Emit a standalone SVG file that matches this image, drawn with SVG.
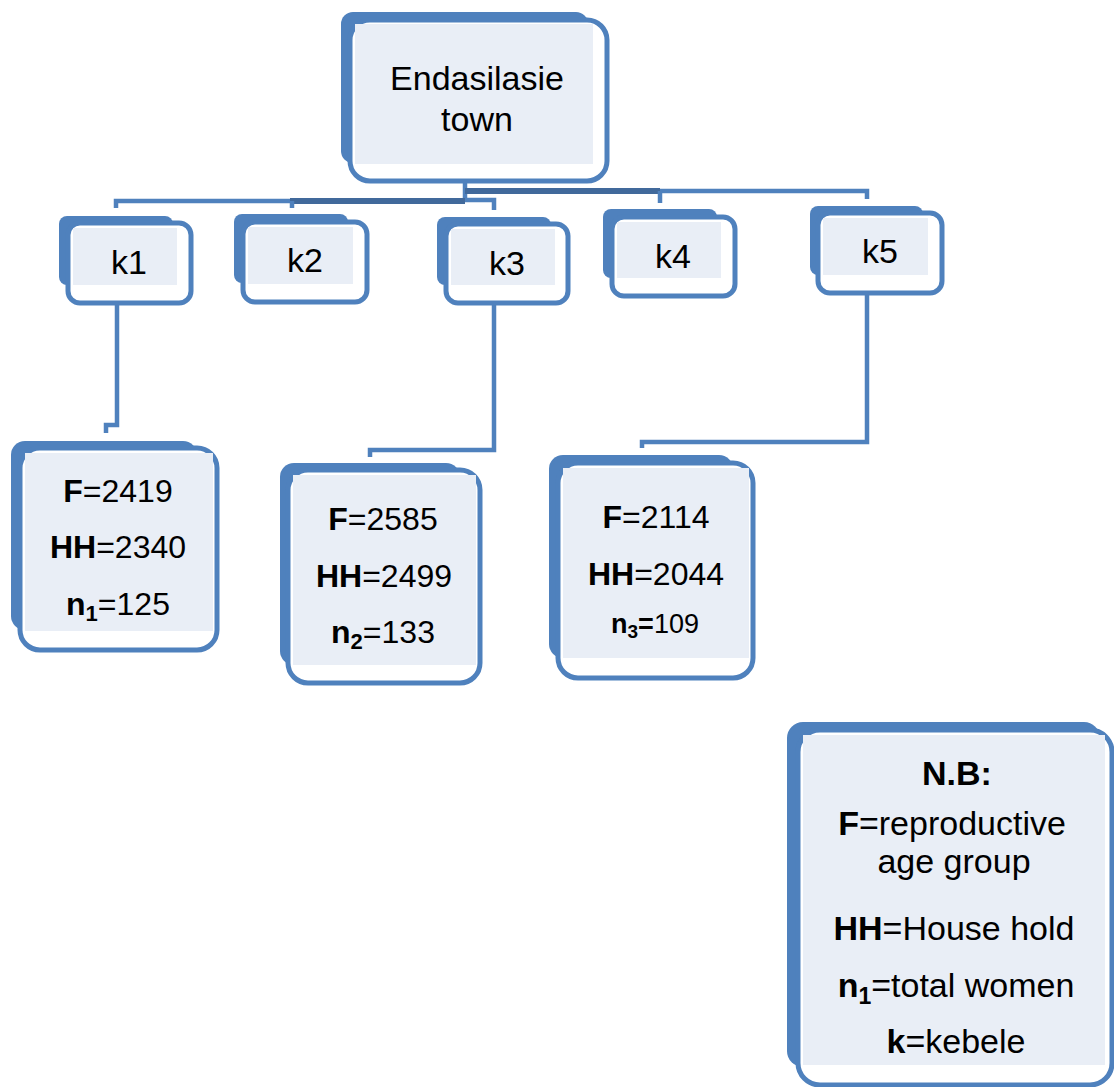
<svg xmlns="http://www.w3.org/2000/svg" width="1114" height="1087" viewBox="0 0 1114 1087">
<style>
.back{fill:#4f81bd}
.front{fill:#ffffff;stroke:#4f81bd;stroke-width:5}
.inner{fill:#e9eef6}
.conn{fill:none;stroke:#4f81bd;stroke-width:4.5}
.dark{fill:none;stroke:#41699b;stroke-width:6}
text{font-family:"Liberation Sans",Arial,sans-serif;fill:#000;text-anchor:middle}
.big{font-size:34px}
.val{font-size:32px}
.leg{font-size:34px}
.b{font-weight:bold}
</style>
<rect width="1114" height="1087" fill="#ffffff"/>
<g id="connectors">
  <path class="conn" d="M465,181 V199"/>
  <path class="conn" d="M116,208 V201 H465"/>
  <path class="dark" d="M290,201 H465"/>
  <path class="conn" d="M292,201 V208"/>
  <path class="conn" d="M465,200 H494 V210"/>
  <path class="dark" d="M465,191 H660"/>
  <path class="conn" d="M660,191 H867 V199"/>
  <path class="conn" d="M660,191 V203"/>
  <path class="conn" d="M117,303 V425 H106 V433"/>
  <path class="conn" d="M494,303 V450 H370 V457"/>
  <path class="conn" d="M867,293 V442 H642 V448"/>
</g>
<g id="node-town">
  <rect class="back" x="341" y="12" width="247" height="151" rx="12"/>
  <rect class="front" x="350" y="20" width="257" height="161" rx="20"/>
  <rect class="inner" x="355" y="24" width="238" height="140"/>
  <text class="big" x="477" y="90">Endasilasie</text>
  <text class="big" x="477" y="131">town</text>
</g>
<g id="node-k1">
  <rect class="back" x="59" y="216" width="114" height="69" rx="8"/>
  <rect class="front" x="68" y="223" width="123" height="80" rx="12"/>
  <rect class="inner" x="73" y="228" width="104" height="57"/>
  <text class="big" x="129" y="274">k1</text>
</g>
<g id="node-k2">
  <rect class="back" x="234" y="214" width="114" height="69" rx="8"/>
  <rect class="front" x="243" y="222" width="124" height="80" rx="12"/>
  <rect class="inner" x="248" y="227" width="105" height="57"/>
  <text class="big" x="305" y="272">k2</text>
</g>
<g id="node-k3">
  <rect class="back" x="437" y="217" width="114" height="68" rx="8"/>
  <rect class="front" x="446" y="224" width="122" height="79" rx="12"/>
  <rect class="inner" x="451" y="229" width="104" height="56"/>
  <text class="big" x="507" y="275">k3</text>
</g>
<g id="node-k4">
  <rect class="back" x="603" y="209" width="114" height="69" rx="8"/>
  <rect class="front" x="612" y="217" width="123" height="79" rx="12"/>
  <rect class="inner" x="617" y="222" width="104" height="56"/>
  <text class="big" x="673" y="268">k4</text>
</g>
<g id="node-k5">
  <rect class="back" x="810" y="206" width="113" height="69" rx="8"/>
  <rect class="front" x="818" y="213" width="124" height="80" rx="12"/>
  <rect class="inner" x="823" y="218" width="105" height="57"/>
  <text class="big" x="880" y="263">k5</text>
</g>
<g id="node-box1">
  <rect class="back" x="11" y="441" width="186" height="189" rx="14"/>
  <rect class="front" x="20" y="448" width="197" height="202" rx="20"/>
  <rect class="inner" x="25" y="453" width="188" height="178"/>
  <text class="val" x="118" y="502"><tspan class="b">F</tspan>=2419</text>
  <text class="val" x="118" y="558"><tspan class="b">HH</tspan>=2340</text>
  <text class="val" x="118" y="615"><tspan class="b">n</tspan><tspan class="b" font-size="22" dy="6">1</tspan><tspan dy="-6">=125</tspan></text>
</g>
<g id="node-box2">
  <rect class="back" x="280" y="463" width="180" height="202" rx="14"/>
  <rect class="front" x="288" y="470" width="192" height="213" rx="20"/>
  <rect class="inner" x="293" y="475" width="183" height="190"/>
  <text class="val" x="383" y="530"><tspan class="b">F</tspan>=2585</text>
  <text class="val" x="384" y="587"><tspan class="b">HH</tspan>=2499</text>
  <text class="val" x="383" y="643"><tspan class="b">n</tspan><tspan class="b" font-size="22" dy="6">2</tspan><tspan dy="-6">=133</tspan></text>
</g>
<g id="node-box3">
  <rect class="back" x="549" y="455" width="184" height="203" rx="14"/>
  <rect class="front" x="558" y="463" width="195" height="215" rx="20"/>
  <rect class="inner" x="563" y="468" width="186" height="190"/>
  <text class="val" x="656" y="528"><tspan class="b">F</tspan>=2114</text>
  <text class="val" x="656" y="585"><tspan class="b">HH</tspan>=2044</text>
  <text x="655" y="633" font-size="27"><tspan class="b">n</tspan><tspan class="b" font-size="19" dy="5">3</tspan><tspan class="b" dy="-5">=</tspan>109</text>
</g>
<g id="node-legend">
  <rect class="back" x="787" y="722" width="313" height="345" rx="16"/>
  <rect class="front" x="798" y="730" width="314" height="355" rx="22"/>
  <rect class="inner" x="803" y="735" width="302" height="330"/>
  <text class="leg b" x="957" y="785">N.B:</text>
  <text class="leg" x="952" y="835"><tspan class="b">F</tspan>=reproductive</text>
  <text class="leg" x="954" y="873">age group</text>
  <text class="leg" x="954" y="940"><tspan class="b">HH</tspan>=House hold</text>
  <text class="leg" x="956" y="997"><tspan class="b">n</tspan><tspan class="b" font-size="23" dy="7">1</tspan><tspan dy="-7">=total women</tspan></text>
  <text class="leg" x="956" y="1053"><tspan class="b">k</tspan>=kebele</text>
</g>
</svg>
